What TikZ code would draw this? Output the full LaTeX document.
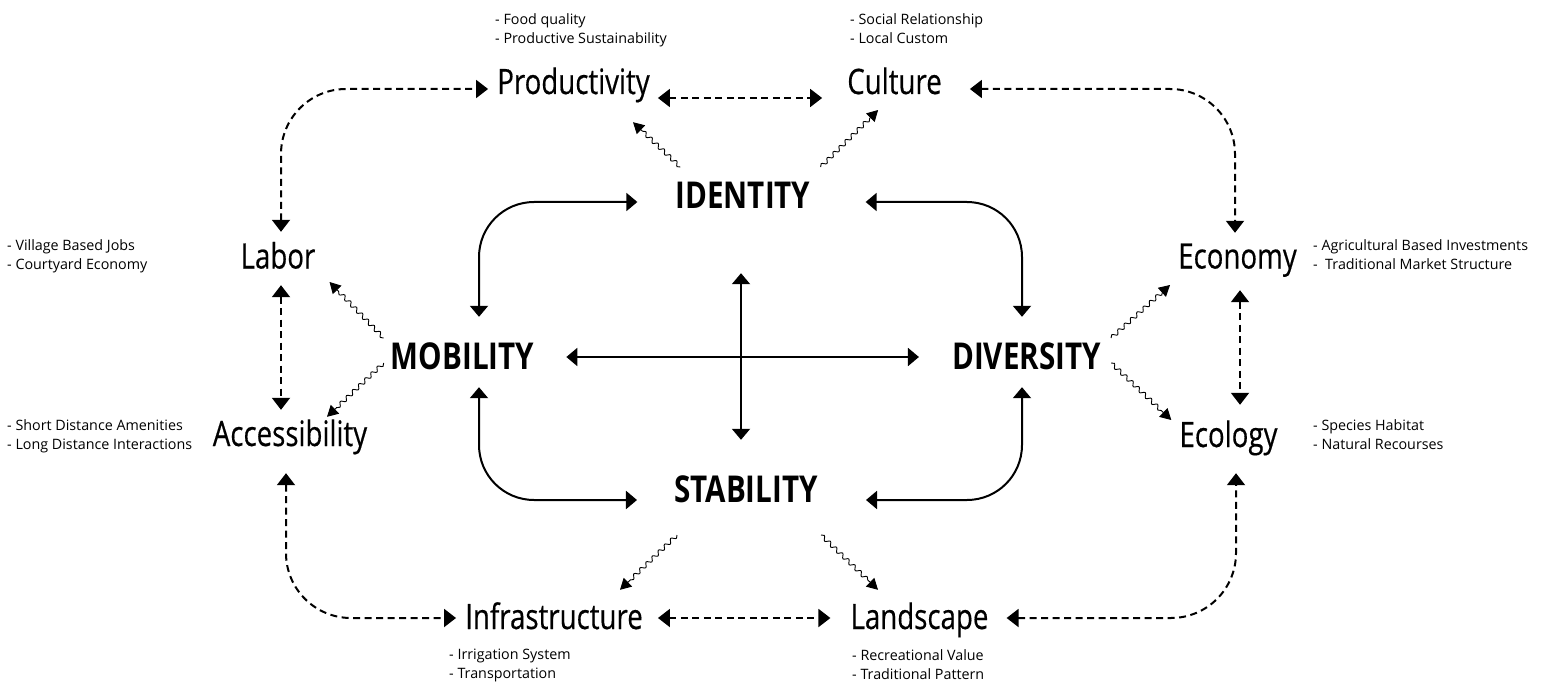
\documentclass[tikz,border=0pt]{standalone}
\usepackage{fontspec}
\setmainfont{Open Sans}
\newfontfamily\labelfont{Open Sans}[FakeStretch=0.79,FakeBold=0.4]
\newfontfamily\corefont{Open Sans}[FakeStretch=0.8]
\usetikzlibrary{arrows.meta,calc,decorations.pathmorphing}

\begin{document}
\begin{tikzpicture}[x=1pt,y=-1pt,
  lbl/.style={inner sep=0pt,text height=25pt,text depth=0pt,font=\labelfont\fontsize{35}{35}\selectfont},
  core/.style={inner sep=0pt,text height=27pt,text depth=0pt,font=\corefont\bfseries\fontsize{37}{37}\selectfont},
  note/.style={inner sep=0pt,anchor=north west,align=left,font=\fontsize{14.3}{19}\selectfont},
  link/.style={line width=2pt,dash pattern=on 7pt off 4.5pt,rounded corners=65pt,
    {Triangle[length=12pt,width=18pt]}-{Triangle[length=12pt,width=18pt]}},
  flow/.style={line width=2pt,rounded corners=55pt,
    {Triangle[length=11pt,width=18pt]}-{Triangle[length=11pt,width=18pt]}},
  ripple/.style={line width=0.9pt,-{Triangle[length=11pt,width=12pt]},decorate,
    decoration={snake,amplitude=2pt,segment length=8.5pt,post length=10pt}}]
\useasboundingbox (0,0) rectangle (1549,687);

% core values
\node[core] (ident) at (743,195) {IDENTITY};
\node[core] (mob) at (462.5,356) {MOBILITY};
\node[core] (div) at (1026.5,356) {DIVERSITY};
\node[core] (stab) at (746,488.5) {STABILITY};

% aspects
\node[lbl] (prod) at (573.5,81.5) {Productivity};
\node[lbl] (culture) at (894.5,81.5) {Culture};
\node[lbl] (labor) at (278,256) {Labor};
\node[lbl] (economy) at (1237.5,256) {Economy};
\node[lbl] (access) at (290,433.5) {Accessibility};
\node[lbl] (ecology) at (1228.5,434.5) {Ecology};
\node[lbl] (infra) at (554,616.5) {Infrastructure};
\node[lbl] (land) at (919.5,616.5) {Landscape};

% notes
\node[note] (prodnote) at (495,13) {- Food quality\\- Productive Sustainability};
\node[note] (culturenote) at (850,13) {- Social Relationship\\- Local Custom};
\node[note] (labornote) at (7,239) {- Village Based Jobs\\- Courtyard Economy};
\node[note] (economynote) at (1313,239) {- Agricultural Based Investments\\-~ Traditional Market Structure};
\node[note] (accessnote) at (7,419) {- Short Distance Amenities\\- Long Distance Interactions};
\node[note] (ecologynote) at (1313,419) {- Species Habitat\\- Natural Recourses};
\node[note] (infranote) at (449,649) {- Irrigation System\\- Transportation};
\node[note] (landnote) at (852,649) {- Recreational Value\\- Traditional Pattern};

% outer ring
\draw[link] ($(labor.north)+(3,-11.5)$) |- ($(prod.west)+(-9,7.5)$);
\draw[link] ($(prod.east)+(8,16.5)$) -- ($(culture.west)+(-25,16.5)$);
\draw[link] ($(culture.east)+(28,7.5)$) -| ($(economy.north)+(-2.5,-10.5)$);
\draw[link] ($(labor.south)+(3,16.5)$) -- ($(labor.south |- access.north)+(3,-11)$);
\draw[link] ($(economy.south)+(2.5,21.5)$) -- ($(economy.south |- ecology.north)+(2.5,-17)$);
\draw[link] ($(access.south)+(-4,27)$) |- ($(infra.west)+(-9,1.5)$);
\draw[link] ($(infra.east)+(15,1.5)$) -- ($(land.west)+(-20,1.5)$);
\draw[link] ($(land.east)+(18,1.5)$) -| ($(ecology.south)+(7.5,26)$);

% inner ring
\draw[flow] ($(mob.north)+(16.5,-25.5)$) |- ($(ident.west)+(-38,7)$);
\draw[flow] ($(ident.east)+(55,7)$) -| ($(div.north)+(-4.5,-25.5)$);
\draw[flow] ($(mob.south)+(16.5,17.5)$) |- ($(stab.west)+(-37,11.5)$);
\draw[flow] ($(div.south)+(-4.5,17.5)$) |- ($(stab.east)+(48,11.5)$);
\draw[flow] ($(mob.east)+(32,1)$) -- ($(div.west)+(-33,1)$);
\draw[flow] ($(ident.south)+(-2,64.5)$) -- ($(ident.south |- stab.north)+(-2,-35)$);

% influences
\draw[ripple] ($(ident.west)+(5,-28)$) -- ($(prod.south)+(59.5,28)$);
\draw[ripple] ($(ident.east)+(10,-28)$) -- ($(culture.west)+(31,28.5)$);
\draw[ripple] ($(mob.west)+(-7,-18)$) -- ($(labor.east)+(14,26)$);
\draw[ripple] ($(mob.west)+(-7,7)$) -- ($(access.north)+(37,-4)$);
\draw[ripple] ($(div.east)+(10,-18)$) -- ($(economy.west)+(-8,29)$);
\draw[ripple] ($(div.east)+(10,7)$) -- ($(ecology.west)+(-8,-14.5)$);
\draw[ripple] ($(stab.west)+(3,46.5)$) -- ($(infra.north)+(66,-14)$);
\draw[ripple] ($(stab.east)+(3,46.5)$) -- ($(land.north)+(-41.5,-14)$);
\end{tikzpicture}
\end{document}
